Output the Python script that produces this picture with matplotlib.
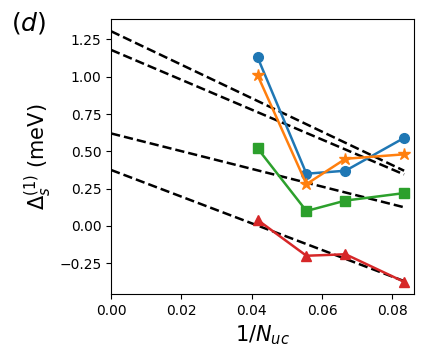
import matplotlib
matplotlib.use("Agg")
import matplotlib.pyplot as plt
import numpy as np

# 1/N_uc for N_uc = 24, 18, 15, 12
inv_n = [1 / 24, 1 / 18, 1 / 15, 1 / 12]

blue = [1.13, 0.35, 0.37, 0.59]
orange = [1.01, 0.28, 0.45, 0.48]
green = [0.52, 0.10, 0.17, 0.22]
red = [0.04, -0.20, -0.19, -0.375]

# dashed fit lines: value at x=0 and at x=1/12
fit_x = [0.0, 1 / 12]
fits = [
    [1.305, 0.37],
    [1.18, 0.345],
    [0.62, 0.125],
    [0.375, -0.37],
]

fig = plt.figure(figsize=(4.24, 3.55), dpi=100)
ax = fig.add_axes([0.262, 0.172, 0.714, 0.774])

for f in fits:
    ax.plot(fit_x, f, '--', color='black', lw=1.8)

ax.plot(inv_n, blue, '-o', color='C0', lw=1.8, ms=7)
ax.plot(inv_n, orange, '-*', color='C1', lw=1.8, ms=9)
ax.plot(inv_n, green, '-s', color='C2', lw=1.8, ms=7)
ax.plot(inv_n, red, '-^', color='C3', lw=1.8, ms=7)

ax.set_xlim(0, 0.0861)
ax.set_ylim(-0.456, 1.386)
ax.set_xticks([0.0, 0.02, 0.04, 0.06, 0.08])
ax.set_yticks([-0.25, 0.0, 0.25, 0.5, 0.75, 1.0, 1.25])
ax.tick_params(labelsize=10)

ax.set_xlabel('$1/N_{uc}$', fontsize=15)
ax.set_ylabel(r'$\Delta_s^{(1)}$ (meV)', fontsize=15)

fig.text(0.025, 0.915, '$(d)$', fontsize=18)

fig.savefig('out.png', dpi=100)
